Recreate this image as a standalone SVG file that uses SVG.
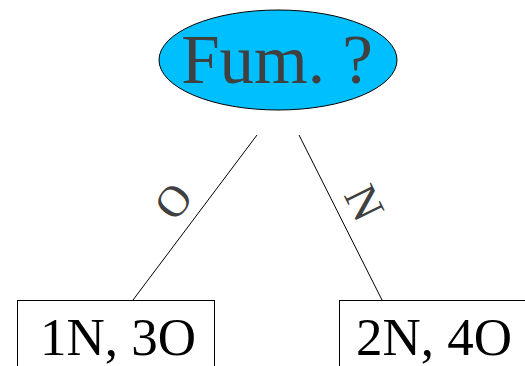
<svg xmlns="http://www.w3.org/2000/svg" width="525" height="366" viewBox="0 0 525 366">
<style>
.t{font-family:"Liberation Serif","Times New Roman",serif;text-anchor:middle}
.edge{stroke:#000;stroke-width:1;fill:none}
.box{fill:#fff;stroke:#000;stroke-width:1}
</style>
<rect width="525" height="366" fill="#fff"/>
<g id="connectors">
<line class="edge" x1="257" y1="135" x2="133" y2="300"/>
<line class="edge" x1="299" y1="135" x2="382" y2="300"/>
<text class="t" font-size="44" fill="#404040" transform="translate(173,201) rotate(-53)" dy="15">O</text>
<text class="t" font-size="46" fill="#404040" transform="translate(364,203) rotate(63.6)" dy="15">N</text>
</g>
<g id="root">
<ellipse cx="278" cy="60" rx="119" ry="50" fill="#00bfff" stroke="#000" stroke-width="1"/>
<text class="t" x="277" y="83" font-size="69" fill="#404040">Fum. ?</text>
</g>
<g id="leafO">
<rect class="box" x="17.5" y="300.5" width="197" height="80"/>
<text class="t" x="118" y="355" font-size="53" fill="#000">1N, 3O</text>
</g>
<g id="leafN">
<rect class="box" x="339.5" y="300.5" width="190" height="80"/>
<text class="t" x="434" y="355" font-size="53" fill="#000">2N, 4O</text>
</g>
</svg>
